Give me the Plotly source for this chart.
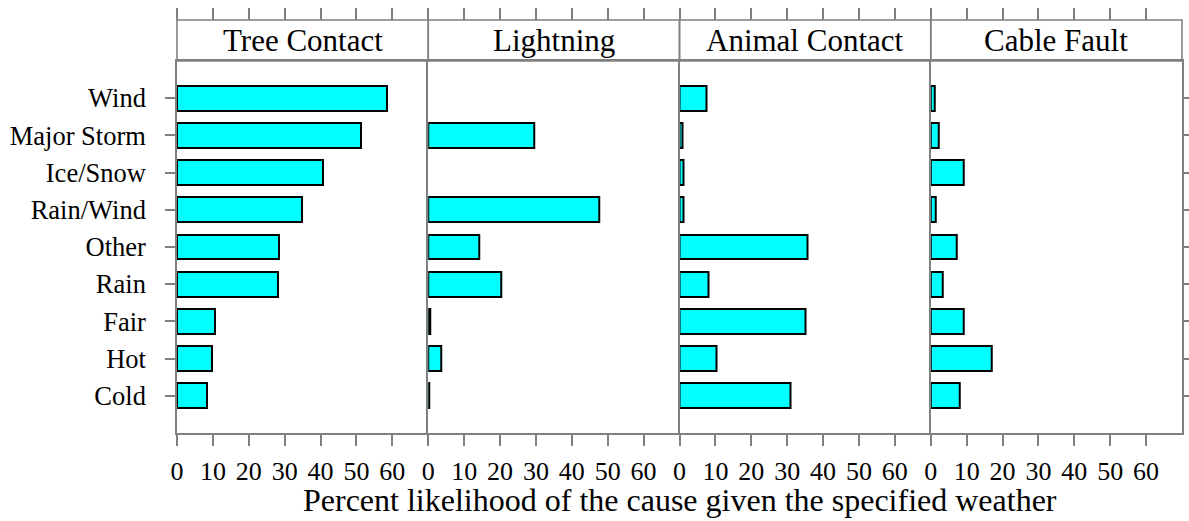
import plotly.graph_objects as go
from plotly.subplots import make_subplots

# Weather conditions, bottom to top
weather = ["Cold", "Hot", "Fair", "Rain", "Other", "Rain/Wind", "Ice/Snow", "Major Storm", "Wind"]

# Percent likelihood of each outage cause for a given weather condition
causes = ["Tree Contact", "Lightning", "Animal Contact", "Cable Fault"]
tree_contact = [8.4, 9.7, 10.5, 28.1, 28.5, 34.9, 40.7, 51.4, 58.6]
lightning = [0.2, 3.7, 0.5, 20.4, 14.2, 47.6, None, 29.4, None]
animal_contact = [30.9, 10.2, 35.1, 8.2, 35.7, 1.2, 1.2, 0.9, 7.4]
cable_fault = [8.1, 17.1, 9.1, 3.3, 7.2, 1.4, 9.3, 2.1, 1.1]
series = [tree_contact, lightning, animal_contact, cable_fault]

x_ticks = [0, 10, 20, 30, 40, 50, 60]
x_range = [0, 70]

FONT = "Liberation Serif, Times New Roman, serif"
GRAY = "#808080"
W, H = 1189, 521
ML, MR, MT, MB = 177, 7, 20, 88
plot_h = H - MT - MB
strip_h = 41
ydom_top = (plot_h - strip_h) / plot_h

fig = make_subplots(rows=1, cols=4, shared_yaxes=True, horizontal_spacing=0)

for i, vals in enumerate(series):
    fig.add_trace(
        go.Bar(
            x=vals, y=weather, orientation="h", width=0.667,
            marker=dict(color="#00FFFF", line=dict(color="black", width=2)),
            showlegend=False, hoverinfo="skip",
        ),
        row=1, col=i + 1,
    )

layout = dict(
    template="none",
    width=W, height=H,
    margin=dict(l=ML, r=MR, t=MT, b=MB, pad=0, autoexpand=False),
    plot_bgcolor="white", paper_bgcolor="white",
    font=dict(family=FONT, color="black", size=26),
    bargap=0,
)

for i in range(4):
    n = "" if i == 0 else str(i + 1)
    last = i == 3
    layout["xaxis" + n] = dict(
        range=x_range, tickvals=x_ticks, ticktext=[str(t) for t in x_ticks],
        ticks="outside", ticklen=11, tickwidth=2, tickcolor=GRAY,
        showline=True, linecolor=GRAY, linewidth=1.6, mirror=True,
        showgrid=False, zeroline=False, automargin=False,
        tickfont=dict(family=FONT, size=26, color="black"),
        ticklabelstandoff=3,
    )
    # each panel draws its left border; the last one also draws the right border
    layout["yaxis" + n] = dict(
        type="category", categoryorder="array", categoryarray=weather,
        range=[-1, len(weather)], domain=[0, ydom_top],
        showline=True, linecolor=GRAY, linewidth=1.6, mirror=last,
        showgrid=False, zeroline=False, automargin=False,
        ticks="outside" if i in (0, 3) else "", ticklen=10,
        tickwidth=2, tickcolor=GRAY,
        showticklabels=(i == 0), side="right" if last else "left",
        tickfont=dict(family=FONT, size=26.5, color="black"),
        ticklabelstandoff=14,
    )

# Upper tick marks above the strips
for i in range(4):
    k = i + 5
    sfx = "" if i == 0 else str(i + 1)
    layout["xaxis" + str(k)] = dict(
        range=x_range, tickvals=x_ticks, showticklabels=False,
        ticks="outside", ticklen=12, tickwidth=2, tickcolor=GRAY,
        overlaying="x" + sfx, anchor="free", position=1, side="top",
        showline=False, showgrid=False, zeroline=False, automargin=False,
    )
    fig.add_trace(go.Scatter(x=[], y=[], xaxis="x" + str(k), yaxis="y" + sfx,
                             showlegend=False, hoverinfo="skip"))

fig.update_layout(**layout)

# Strips with cause names
shapes = []
annotations = []
for i, name in enumerate(causes):
    x0, x1 = i / 4, (i + 1) / 4
    shapes.append(dict(type="rect", xref="paper", yref="paper",
                       x0=x0, x1=x1, y0=ydom_top, y1=1,
                       line=dict(color=GRAY, width=1.6), fillcolor="rgba(0,0,0,0)"))
    annotations.append(dict(text=name, xref="paper", yref="paper",
                            x=(x0 + x1) / 2, y=(ydom_top + 1) / 2,
                            xanchor="center", yanchor="middle", showarrow=False,
                            font=dict(family=FONT, size=31, color="black")))

annotations.append(dict(text="Percent likelihood of the cause given the specified weather",
                        xref="paper", yref="paper", x=0.5, y=-(500 - (H - MB)) / plot_h,
                        xanchor="center", yanchor="middle", showarrow=False,
                        font=dict(family=FONT, size=32, color="black")))

fig.update_layout(shapes=shapes, annotations=annotations)

fig.write_html("out.html")
